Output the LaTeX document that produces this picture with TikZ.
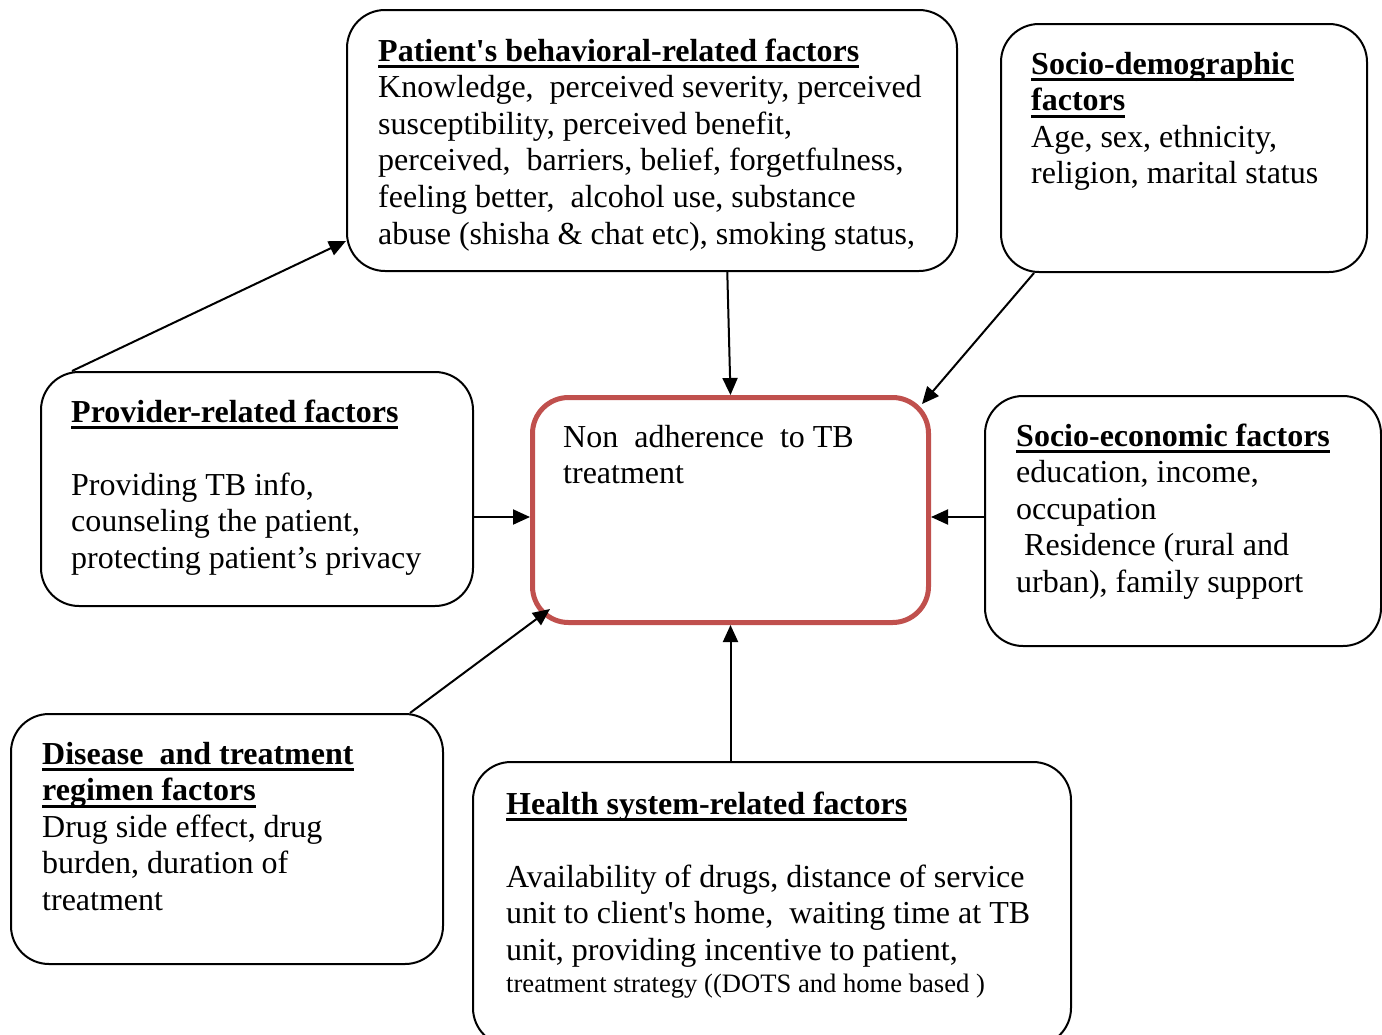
\documentclass[tikz,border=0pt]{standalone}
\usepackage{fontspec}
\setmainfont{Liberation Serif}
\usetikzlibrary{arrows.meta,calc}
\definecolor{corered}{HTML}{C0504D}
\newcommand\ulbox[1]{\leavevmode\setbox0\hbox{#1}\rlap{\vrule width\wd0 height -4pt depth 7pt}\box0}
\newcommand\ttl[1]{\ulbox{\bfseries #1}}
\begin{document}
\begin{tikzpicture}[x=1pt,y=-1pt,
  box/.style={draw, line width=2pt, rounded corners=38pt, inner sep=0pt, anchor=north west},
  core/.style={draw=corered, line width=5pt, rounded corners=36pt, inner sep=0pt, anchor=north west},
  txt/.style={anchor=base west, inner sep=0pt, align=flush left, text width=#1, font=\fontsize{32}{36.6}\selectfont},
  arr/.style={line width=2pt, -{Triangle[length=17pt,width=15pt]}}]
\useasboundingbox (0,0) rectangle (1382,1034);

\node[box, minimum width=610pt, minimum height=261pt] (b1) at (346,9) {};
\node[box, minimum width=366pt, minimum height=248pt] (b2) at (1000,23) {};
\node[box, minimum width=432pt, minimum height=234pt] (prov) at (40,371) {};
\node[core, minimum width=396pt, minimum height=225pt] (core) at (530,395) {};
\node[box, minimum width=396pt, minimum height=250pt] (eco) at (984,395) {};
\node[box, minimum width=432pt, minimum height=250pt] (dis) at (10,713) {};
\node[box, minimum width=598pt, minimum height=284pt] (hlth) at (472,761) {};

\node[txt=620pt] (t1) at (378,61) {\ttl{Patient\textquotesingle s behavioral-related factors}\\
Knowledge,\ \ perceived severity, perceived\\
susceptibility, perceived benefit,\\
perceived,\ \ barriers, belief, forgetfulness,\\
feeling better,\ \ alcohol use, substance\\
abuse (shisha \& chat etc), smoking status,};

\node[txt=340pt] (t2) at (1031,74) {\ttl{Socio-demographic}\\
\ttl{factors}\\
Age, sex, ethnicity,\\
religion, marital status};

\node[txt=400pt] (tp) at (71,422) {\ttl{Provider-related factors}\\[36.6pt]
Providing TB info,\\
counseling the patient,\\
protecting patient’s privacy};

\node[txt=360pt] (tc) at (563,447) {Non\ \ adherence\ \ to TB\\
treatment};

\node[txt=360pt] (te) at (1016,446) {\ttl{Socio-economic factors}\\
education, income,\\
occupation\\
\hspace*{8pt}Residence (rural and\\
urban), family support};

\node[txt=400pt] (td) at (42,764) {\ttl{Disease\ \ and treatment}\\
\ttl{regimen factors}\\
Drug side effect, drug\\
burden, duration of\\
treatment};

\node[txt=560pt] (th) at (506,814) {\ttl{Health system-related factors}\\[36.6pt]
Availability of drugs, distance of service\\
unit to client\textquotesingle s home,\ \ waiting time at TB\\
unit, providing incentive to patient,\\[-4.6pt]
{\fontsize{26.6}{32}\selectfont treatment strategy ((DOTS and home based )}};

\draw[arr] ($(b1.south west)!0.623!(b1.south east)$) -- (core.north);
\draw[arr] ($(b2.south west)+(34,0)$) -- ($(core.north east)+(-9,9)$);
\draw[arr] ($(prov.north west)+(32,0)$) -- ($(b1.south west)+(0,-31)$);
\coordinate (cL) at ($(core.west)+(0,7)$);
\coordinate (cR) at ($(core.east)+(0,7)$);
\draw[arr] (prov.east |- cL) -- (cL);
\draw[arr] (eco.west |- cR) -- (cR);
\draw[arr] ($(dis.north east)+(-34,0)$) -- ($(core.south west)+(20,-16)$);
\draw[arr] (core.south |- hlth.north) -- (core.south);
\end{tikzpicture}
\end{document}
